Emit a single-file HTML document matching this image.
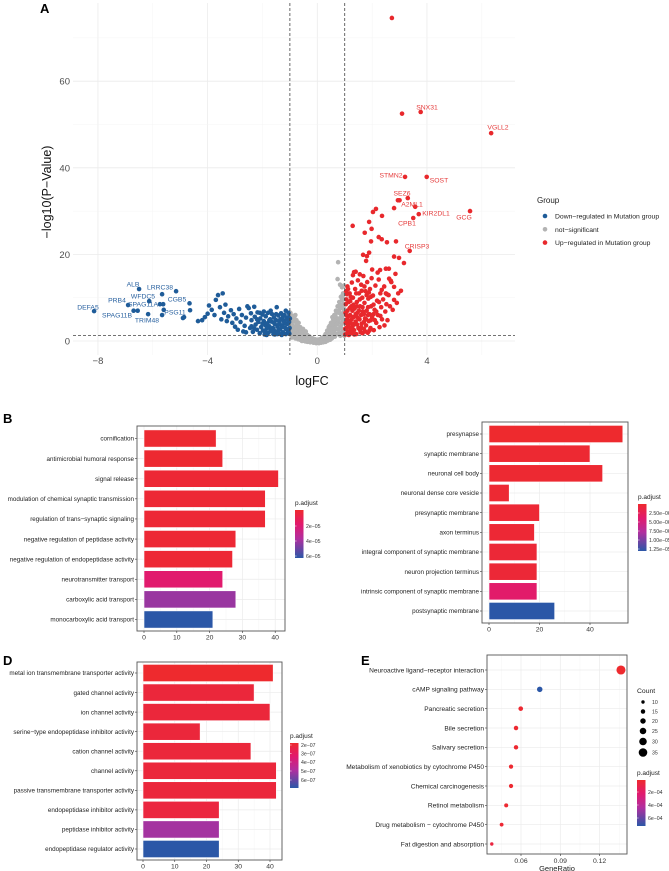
<!DOCTYPE html>
<html><head><meta charset="utf-8"><style>
html,body{margin:0;padding:0;background:#fff;}
svg{display:block;font-family:"Liberation Sans",sans-serif;}
</style></head><body>
<svg id="fig" width="669" height="871" viewBox="0 0 669 871" xmlns="http://www.w3.org/2000/svg">
<defs>
<linearGradient id="gradP" x1="0" y1="0" x2="0" y2="1">
<stop offset="0" stop-color="#ee2a2e"/><stop offset="0.3" stop-color="#e11a6e"/><stop offset="0.6" stop-color="#b12f9f"/><stop offset="1" stop-color="#2b57a7"/>
</linearGradient>
</defs>
</svg>
<script>
// ---------- Volcano data ----------
const downPoints = [[-8.14,6.9],[-6.5,12],[-5.15,11.5],[-6.13,9.2],[-5.66,10.8],[-6.9,8.3],[-6.7,7.0],[-6.55,7.0],[-6.17,6.2],[-5.6,7.2],[-5.66,6.0],[-4.66,8.7],[-4.64,7.1],[-4.86,5.5],[-5.74,8.5],[-5.62,8.5],[-4.9,5.3],
[-4.35,4.6],[-4.2,4.8],[-4.1,5.5],[-4.0,6.3],[-3.95,8.2],[-3.85,7.2],[-3.75,6],[-3.7,9.5],[-3.62,10.6],[-3.55,7.8],[-3.5,5],[-3.45,11],[-3.4,6.5],[-3.35,8.4],[-3.3,4.6],[-3.25,5.7],[-3.15,7.1],[-3.1,4.2],[-3.05,6.2],[-3.0,3.3],[-2.95,5.2],[-2.9,2.6],[-2.85,7.4],[-2.8,4.4],[-2.75,6],[-2.7,2.2],[-2.65,3.5],[-2.6,5.4],[-2.55,8],[-2.5,7.6],[-2.45,3],[-2.42,6.4],[-2.4,4.8],[-2.35,2.1],[-2.3,7.9],[-2.28,5.6],[-2.25,3.8],[-2.2,2.6],[-2.18,6.6],[-2.15,4.4],[-2.1,1.8],[-2.08,5.2],[-2.05,3.2],[-2.0,6.1],[-1.98,2.4],[-1.95,4.6],[-1.92,1.5],[-1.9,3.7],[-1.88,5.7],[-1.85,2.9],[-1.82,4.1],[-1.8,6.5],[-1.78,1.9],[-1.75,3.4],[-1.72,5.0],[-1.7,2.5],[-1.68,4.5],[-1.65,6.2],[-1.62,3.0],[-1.6,1.6],[-1.58,5.4],[-1.55,3.9],[-1.52,2.2],[-1.5,4.8],[-1.48,7.8],[-1.45,3.3],[-1.42,5.9],[-1.4,1.8],[-1.38,4.3],[-1.35,2.7],[-1.32,6.4],[-1.3,3.6],[-1.28,5.1],[-1.25,2.0],[-1.22,4.6],[-1.2,6.0],[-1.18,3.1],[-1.15,1.6],[-1.12,5.4],[-1.1,3.9],[-1.08,2.4],[-1.05,6.5],[-1.03,4.4],[-1.01,3.0],[-1.02,1.7],[-1.6,2.8],[-1.9,2.1],[-2.0,4.0],[-1.4,2.6],[-1.15,2.8],[-1.75,4.8],[-1.25,5.8],[-2.3,2.9],[-2.6,2.0],[-1.55,1.5],[-1.1,4.9],
[-1.95,6.8],[-1.85,1.4],[-1.7,7],[-1.5,6.2],[-1.45,1.6],[-1.35,5],[-1.3,1.4],[-1.2,4.2],[-1.15,7],[-1.05,2.3],[-1.05,5.5],[-1.6,4.3],[-1.8,3.2],[-2.1,6.5],[-2.2,5],[-2.4,3.4],[-1.4,3.8],[-1.25,3.3],[-1.65,2.3],[-1.0,5.2]];
const nsPoints = [[-0.98,6.5],[-0.95,2],[-0.92,5],[-0.9,3.5],[-0.88,1.2],[-0.85,4.5],[-0.82,2.8],[-0.8,6],[-0.78,1.8],[-0.75,3.8],[-0.72,0.9],[-0.7,2.5],[-0.68,4.2],[-0.65,1.5],[-0.62,3.2],[-0.6,0.7],[-0.58,2.2],[-0.55,1.2],[-0.52,2.8],[-0.5,0.5],[-0.48,1.8],[-0.45,0.9],[-0.42,2.2],[-0.4,0.4],[-0.37,1.4],[-0.34,0.7],[-0.3,1.1],[-0.27,0.3],[-0.24,0.8],[-0.2,0.2],[-0.16,0.6],[-0.12,0.2],[-0.08,0.4],[-0.04,0.1],[0,0.3],[0.04,0.1],[0.08,0.4],[0.12,0.2],[0.16,0.7],[0.2,0.3],[0.24,1.0],[0.27,0.4],[0.3,1.6],[0.33,0.8],[0.36,2.4],[0.4,1.2],[0.42,3.2],[0.45,0.6],[0.48,2.0],[0.5,4.2],[0.52,1.4],[0.55,3.0],[0.58,5.0],[0.6,2.2],[0.62,6],[0.64,1.0],[0.66,3.8],[0.68,7],[0.7,2.8],[0.72,5.2],[0.74,8],[0.76,1.6],[0.78,4.4],[0.8,9],[0.82,6.4],[0.84,3.2],[0.86,10.2],[0.88,7.6],[0.9,5.2],[0.92,2.2],[0.94,11],[0.96,8.6],[0.98,4.2],[0.76,18.2],[0.74,14.3],[0.83,13],[0.9,12.4],[0.97,12.8],[0.6,3.6],[0.7,4.4],[0.85,1.8],[0.95,6.6],[0.65,2.6],[-0.85,1.0],[-0.95,4.0],[-0.6,1.4],[0.3,0.2],[-0.3,0.2],[0.5,0.8],[-0.5,1.3],[0.9,9.5],[0.55,5.5],[0.45,3.5],[0.78,7],[0.88,3.8],
[-0.97,1.5],[-0.97,3],[-0.97,4.5],[-0.93,0.8],[-0.9,2.2],[-0.9,5.8],[-0.86,3.3],[-0.83,1.8],[-0.83,5.2],[-0.8,0.6],[-0.78,3],[-0.76,4.8],[-0.74,1.2],[-0.72,3.6],[-0.7,0.4],[-0.68,1.9],[-0.66,3],[-0.63,0.3],[-0.62,2.2],[-0.58,1.3],[-0.56,0],[-0.54,1.9],[-0.5,0.1],[-0.46,1.3],[-0.44,-0.1],[-0.4,0.9],[-0.36,-0.2],[-0.32,0.5],[-0.26,-0.3],[-0.2,-0.1],[-0.14,-0.4],[-0.1,-0.1],[-0.04,-0.5],[0.02,-0.2],[0.06,-0.5],[0.1,-0.1],[0.14,-0.4],[0.18,0],[0.22,-0.3],[0.26,0.3],[0.3,-0.2],[0.34,0.6],[0.38,0.1],[0.4,2],[0.44,1.5],[0.47,0.3],[0.5,2.8],[0.53,0.6],[0.56,2],[0.58,3.8],[0.6,1],[0.62,4.6],[0.64,3],[0.66,5.8],[0.68,1.6],[0.7,6.5],[0.72,3.8],[0.74,6.8],[0.76,2.6],[0.78,8],[0.8,5.2],[0.82,7.6],[0.84,1.2],[0.86,8.4],[0.88,5.8],[0.9,2.8],[0.92,7.8],[0.94,4.6],[0.96,9.8],[0.97,2],[0.98,6],[0.98,7.4],[0.92,10.5],[0.99,1.2]];
const upPoints = [[6.34,48],[3.77,52.9],[3.09,52.5],[2.72,74.6],[3.2,37.9],[3.99,37.9],[3.3,33],[2.94,32.5],[3.0,32.5],[3.57,31],[3.7,29.3],[5.57,30],[3.5,28.4],[3.37,20.8],[2.14,30.5],[2.03,29.8],[2.36,28.9],[2.8,30.7],[1.29,26.6],[1.89,27.5],[1.73,25],[1.98,25.9],[1.96,23],[2.24,24],[2.35,23.5],[2.54,22.8],[2.87,23],[1.67,19.9],[1.81,19.6],[1.89,20.4],[1.78,18.5],[2.8,19.5],[2.98,19.2],[3.16,18],[1.34,15.9],[2.29,16.4],[2.5,16.7],[2.61,16.7],[3.05,11.6],[2.54,10.8],[2.68,13.9],
[1.02,1.5],[1.05,3],[1.08,5],[1.1,7],[1.12,2.2],[1.14,9],[1.16,4],[1.18,11],[1.2,6],[1.22,1.8],[1.24,8],[1.26,13.5],[1.28,3.3],[1.3,10],[1.32,5.5],[1.34,2.5],[1.36,7.5],[1.38,12],[1.4,4.5],[1.42,1.6],[1.44,9],[1.46,6.5],[1.48,14],[1.5,3],[1.52,11],[1.54,5],[1.56,8],[1.58,2],[1.6,13],[1.62,4],[1.64,10],[1.66,6.8],[1.68,15],[1.7,2.8],[1.72,8.8],[1.74,5.2],[1.76,11.5],[1.78,3.6],[1.8,7],[1.82,13.6],[1.84,1.9],[1.86,9.8],[1.88,4.6],[1.9,6.2],[1.92,12],[1.94,3],[1.96,8],[1.98,14.5],[2.0,5.5],[2.03,10.5],[2.06,2.5],[2.09,7.2],[2.12,12.8],[2.15,4.2],[2.18,9.3],[2.21,6],[2.24,14.2],[2.27,3.2],[2.3,11],[2.33,7.8],[2.36,5],[2.4,9.6],[2.44,12.6],[2.48,6.8],[2.52,8.5],[2.56,4.8],[2.6,10.6],[2.65,8],[2.7,13.6],[2.75,7.2],[2.8,9.5],[2.85,15.5],[2.9,8.8],[1.06,6],[1.12,4.8],[1.2,9.2],[1.28,7],[1.36,4],[1.44,5.6],[1.52,7],[1.6,6],[1.7,4.4],[1.8,10.6],[1.9,2.4],[1.15,1.4],[1.25,2.6],[1.35,1.5],[1.45,3.8],[1.55,2.6],[1.65,1.8],[1.75,2.2],[1.85,6],[1.95,10.2],[2.05,8.4],[2.15,6.8],[2.25,9],[2.35,11.8],[2.45,3.6],[1.04,8.5],[1.08,10.8],[1.1,12.6],[1.3,15.2],[1.4,16],[1.55,15.4],[2.0,16.5],[2.2,15.8],[1.22,4.2],[1.32,8.4],[1.42,11],[1.62,11.6],[1.72,12.6],[2.1,4.8],[2.3,5.8],[2.5,11],[2.62,14.4],[2.8,12.5],[2.95,11],
[1.02,2.8],[1.04,4.2],[1.03,6.5],[1.06,9.6],[1.1,1.8],[1.12,3.6],[1.15,5.8],[1.18,7.6],[1.2,3],[1.25,5],[1.3,1.7],[1.33,3.8],[1.4,6.2],[1.45,8],[1.5,5.2],[1.55,9.6],[1.6,3.2],[1.65,7.8],[1.7,6.2],[1.78,5],[1.85,7.8],[1.88,11.2],[1.95,4.8],[2.05,6.2],[1.12,12],[1.22,10.2],[1.05,11.5]];
const downLabels = [["DEFA5",88,307],["ALB",133,284],["LRRC38",160,287],["WFDC5",143,296],["CGB5",177,299],["PRB4",117,300],["SPAG11A",143,304],["SPAG11B",117,315],["TRIM48",147,320],["PSG11",175,312]];
const upLabels = [["SNX31",427,107],["VGLL2",498,127],["STMN2",391,175],["SOST",439,180],["SEZ6",402,193],["A2ML1",412,204],["KIR2DL1",436,213],["GCG",464,217],["CPB1",407,223],["CRISP3",417,246]];
const volXTicks = [-8,-4,0,4];
const volYTicks = [0,20,40,60];

// ---------- Panel B ----------
const bCats = ["cornification","antimicrobial humoral response","signal release","modulation of chemical synaptic transmission","regulation of trans−synaptic signaling","negative regulation of peptidase activity","negative regulation of endopeptidase activity","neurotransmitter transport","carboxylic acid transport","monocarboxylic acid transport"];
const bVals = [22,24,41,37,37,28,27,24,28,21];
const bPadj = [2e-6,2e-6,3e-6,3e-6,3e-6,3e-6,3e-6,1.9e-5,4.2e-5,6.2e-5];
const bTicks = [0,10,20,30,40];
const bLegend = ["2e−05","4e−05","6e−05"];
// ---------- Panel C ----------
const cCats = ["presynapse","synaptic membrane","neuronal cell body","neuronal dense core vesicle","presynaptic membrane","axon terminus","integral component of synaptic membrane","neuron projection terminus","intrinsic component of synaptic membrane","postsynaptic membrane"];
const cVals = [53,40,45,8,20,18,19,19,19,26];
const cPadj = [1.2e-6,1.4e-6,1.4e-6,1.5e-6,1.6e-6,1.6e-6,1.7e-6,1.7e-6,4.5e-6,1.3e-5];
const cTicks = [0,20,40];
const cLegend = ["2.50e−06","5.00e−06","7.50e−06","1.00e−05","1.25e−05"];
// ---------- Panel D ----------
const dCats = ["metal ion transmembrane transporter activity","gated channel activity","ion channel activity","serine−type endopeptidase inhibitor activity","cation channel activity","channel activity","passive transmembrane transporter activity","endopeptidase inhibitor activity","peptidase inhibitor activity","endopeptidase regulator activity"];
const dVals = [41,35,40,18,34,42,42,24,24,24];
const dPadj = [1.8e-7,2.1e-7,2.1e-7,2.1e-7,2.1e-7,2.1e-7,2.1e-7,2.2e-7,5.0e-7,6.8e-7];
const dTicks = [0,10,20,30,40];
const dLegend = ["2e−07","3e−07","4e−07","5e−07","6e−07"];
// ---------- Panel E ----------
const eCats = ["Neuroactive ligand−receptor interaction","cAMP signaling pathway","Pancreatic secretion","Bile secretion","Salivary secretion","Metabolism of xenobiotics by cytochrome P450","Chemical carcinogenesis","Retinol metabolism","Drug metabolism − cytochrome P450","Fat digestion and absorption"];
const eRatio = [0.1363,0.0743,0.0598,0.0562,0.0562,0.0524,0.0524,0.0487,0.0452,0.0377];
const eCount = [37,20,16,15,15,14,14,13,12,10];
const ePadj = [2e-5,7.2e-4,3e-5,3e-5,3e-5,3e-5,3e-5,3e-5,4e-5,8e-5];
const eTicks = [0.06,0.09,0.12];
const eCountLegend = [10,15,20,25,30,35];
const eLegend = ["2e−04","4e−04","6e−04"];

const NS="http://www.w3.org/2000/svg";
const svg=document.getElementById('fig');
function mk(tag,attrs,parent){const e=document.createElementNS(NS,tag);for(const k in attrs)e.setAttribute(k,attrs[k]);(parent||svg).appendChild(e);return e;}
function txt(s,attrs,parent){const e=mk('text',attrs,parent);e.textContent=s;return e;}
function hex(c){return [parseInt(c.slice(1,3),16),parseInt(c.slice(3,5),16),parseInt(c.slice(5,7),16)];}
const stops=[[0,'#ee2a2e'],[0.3,'#e11a6e'],[0.6,'#b12f9f'],[1,'#2b57a7']];
function colorAt(t){t=Math.max(0,Math.min(1,t));for(let i=0;i<stops.length-1;i++){const[a,ca]=stops[i],[b,cb]=stops[i+1];if(t<=b){const u=(t-a)/(b-a),x=hex(ca),y=hex(cb);return 'rgb('+x.map((v,j)=>Math.round(v+(y[j]-v)*u)).join(',')+')';}}return stops[3][1];}

// ===== Volcano =====
const vx=v=>317.3+27.42*v, vy=v=>341-4.33*v;
const gV=mk('g',{});


for(let v=-8;v<=6;v+=2){const l=mk('line',{x1:vx(v),x2:vx(v),y1:3,y2:355,stroke:v%4===0?'#ebebeb':'#f4f4f4','stroke-width':v%4===0?0.8:0.5},gV);

}
for(let v=0;v<=70;v+=10){const l=mk('line',{x1:73,x2:515,y1:vy(v),y2:vy(v),stroke:v%20===0?'#ebebeb':'#f4f4f4','stroke-width':v%20===0?0.8:0.5},gV);

}
function drawPts(arr,col,name){for(const p of arr){const c=mk('circle',{cx:vx(p[0]),cy:vy(p[1]),r:2.3,fill:col},gV);

}}
drawPts(nsPoints,'#b3b3b3','ns-point');
drawPts(downPoints,'#1f5c99','down-point');
drawPts(upPoints,'#e8282c','up-point');
[-1,1].forEach(v=>{const l=mk('line',{x1:vx(v),x2:vx(v),y1:3,y2:355,stroke:'#444','stroke-width':0.8,'stroke-dasharray':'3,2'},gV);

});
{const l=mk('line',{x1:73,x2:515,y1:vy(1.3),y2:vy(1.3),stroke:'#444','stroke-width':0.8,'stroke-dasharray':'3,2'},gV);

}
for(const L of downLabels){const t=txt(L[0],{x:L[1],y:L[2]+2.5,'font-size':6.8,fill:'#2a62a0','text-anchor':'middle'},gV);

}
for(const L of upLabels){const t=txt(L[0],{x:L[1],y:L[2]+2.5,'font-size':6.8,fill:'#e53a3a','text-anchor':'middle'},gV);

}
for(const v of volXTicks){const t=txt(v<0?'−'+Math.abs(v):String(v),{x:vx(v),y:364,'font-size':9.5,fill:'#4d4d4d','text-anchor':'middle'},gV);

}
for(const v of volYTicks){const t=txt(String(v),{x:70,y:vy(v)+3.5,'font-size':9.5,fill:'#4d4d4d','text-anchor':'end'},gV);

}
{const t=txt('logFC',{x:312,y:385,'font-size':12.5,fill:'#111','text-anchor':'middle'},gV);

}
{const t=txt('−log10(P−Value)',{x:0,y:0,'font-size':12.5,fill:'#111','text-anchor':'middle',transform:'translate(51,192) rotate(-90)'},gV);

}
{const t=txt('Group',{x:537,y:203,'font-size':8,fill:'#222'},gV);

}
[['Down−regulated in Mutation group','#1f5c99'],['not−significant','#b3b3b3'],['Up−regulated in Mutation group','#e8282c']].forEach((e,i)=>{
const c=mk('circle',{cx:545,cy:216+i*13.3,r:2.3,fill:e[1]},gV);


const t=txt(e[0],{x:555,y:218.5+i*13.3,'font-size':6.8,fill:'#222'},gV);

});

// panel letters
[['A',40,13],['B',3,423],['C',361,423],['D',3,665],['E',361,665]].forEach(L=>{const t=txt(L[0],{x:L[1],y:L[2],'font-size':13,'font-weight':'bold',fill:'#000'});

});

// ===== Bar panels =====
function barPanel(o){
const g=mk('g',{});


const sx=v=>o.x0+o.k*v;
const n=o.cats.length, step=(o.cLast-o.cFirst)/(n-1);
for(const v of o.ticks){const l=mk('line',{x1:sx(v),x2:sx(v),y1:o.top,y2:o.bot,stroke:'#ebebeb','stroke-width':0.7},g);

}
for(let i=0;i<o.ticks.length-1;i++){const m=(o.ticks[i]+o.ticks[i+1])/2;const l=mk('line',{x1:sx(m),x2:sx(m),y1:o.top,y2:o.bot,stroke:'#f5f5f5','stroke-width':0.5},g);

}
o.cats.forEach((c,i)=>{const cy=o.cFirst+i*step;
const gl=mk('line',{x1:o.left,x2:o.right,y1:cy,y2:cy,stroke:'#ebebeb','stroke-width':0.7},g);


const r=mk('rect',{x:sx(0),y:cy-8.6,width:sx(o.vals[i])-sx(0),height:17.2,fill:colorAt((o.padj[i]-o.dom[0])/(o.dom[1]-o.dom[0])),stroke:'#fff','stroke-width':0.6},g);


const tk=mk('line',{x1:o.left-2,x2:o.left,y1:cy,y2:cy,stroke:'#333','stroke-width':0.6},g);


const t=txt(c,{x:o.left-3,y:cy+2.2,'font-size':6.3,fill:'#222','text-anchor':'end'},g);

});
const b=mk('rect',{x:o.left,y:o.top,width:o.right-o.left,height:o.bot-o.top,fill:'none',stroke:'#555','stroke-width':0.9},g);


for(const v of o.ticks){const tk=mk('line',{x1:sx(v),x2:sx(v),y1:o.bot,y2:o.bot+2,stroke:'#333','stroke-width':0.6},g);


const t=txt(String(v),{x:sx(v),y:o.bot+8.5,'font-size':6.8,fill:'#333','text-anchor':'middle'},g);

}
legendBar(g,o.lx,o.ly,o.lh,o.legend,o.lpos);
return g;}
function legendBar(g,lx,ly,lh,labels,pos){
const t=txt('p.adjust',{x:lx,y:ly-5,'font-size':6.5,fill:'#222'},g);


const r=mk('rect',{x:lx,y:ly,width:8.5,height:lh,fill:'url(#gradP)'},g);


labels.forEach((s,i)=>{const y=pos[i];
const l=mk('line',{x1:lx,x2:lx+1.6,y1:y,y2:y,stroke:'#fff','stroke-width':0.5},g);


const tt=txt(s,{x:lx+11,y:y+1.8,'font-size':5.2,fill:'#333'},g);

});}

barPanel({name:'panel-b-bar-chart',cats:bCats,vals:bVals,padj:bPadj,dom:[1e-6,6.2e-5],ticks:bTicks,x0:144,k:3.28,left:137,right:285,top:426,bot:631,cFirst:438.5,cLast:619.5,legend:bLegend,lx:295,ly:510,lh:48,lpos:[526,541,556]});
barPanel({name:'panel-c-bar-chart',cats:cCats,vals:cVals,padj:cPadj,dom:[1.2e-6,1.3e-5],ticks:cTicks,x0:489,k:2.525,left:482,right:628,top:422,bot:623,cFirst:434,cLast:611,legend:cLegend,lx:638,ly:504,lh:47,lpos:[513,522,531,540,549]});
barPanel({name:'panel-d-bar-chart',cats:dCats,vals:dVals,padj:dPadj,dom:[1.8e-7,6.8e-7],ticks:dTicks,x0:143,k:3.175,left:137,right:282,top:662,bot:860,cFirst:673,cLast:849,legend:dLegend,lx:290,ly:743,lh:45,lpos:[745,753.5,762,771,780]});

// ===== Dot plot E =====
{
const g=mk('g',{});


const left=487,right=627,top=655,bot=854;
const sx=v=>521+(v-0.06)*(39.3/0.03);
const rad=c=>0.66+0.104*c;
const cF=670,cL=844,step=(cL-cF)/9;
for(let v=0.045;v<0.14;v+=0.03){const l=mk('line',{x1:sx(v),x2:sx(v),y1:top,y2:bot,stroke:'#f5f5f5','stroke-width':0.5},g);

}
for(const v of eTicks){const l=mk('line',{x1:sx(v),x2:sx(v),y1:top,y2:bot,stroke:'#ebebeb','stroke-width':0.7},g);

}
eCats.forEach((c,i)=>{const cy=cF+i*step;
const gl=mk('line',{x1:left,x2:right,y1:cy,y2:cy,stroke:'#ebebeb','stroke-width':0.7},g);


const d=mk('circle',{cx:sx(eRatio[i]),cy:cy,r:rad(eCount[i]),fill:colorAt((ePadj[i]-2e-5)/(7.2e-4-2e-5))},g);


const tk=mk('line',{x1:left-2,x2:left,y1:cy,y2:cy,stroke:'#333','stroke-width':0.6},g);


const t=txt(c,{x:left-3,y:cy+2.3,'font-size':6.6,fill:'#222','text-anchor':'end'},g);

});
const b=mk('rect',{x:left,y:top,width:right-left,height:bot-top,fill:'none',stroke:'#555','stroke-width':0.9},g);


for(const v of eTicks){const tk=mk('line',{x1:sx(v),x2:sx(v),y1:bot,y2:bot+2,stroke:'#333','stroke-width':0.6},g);


const t=txt(v.toFixed(2),{x:sx(v),y:bot+9,'font-size':6.8,fill:'#333','text-anchor':'middle'},g);

}
{const t=txt('GeneRatio',{x:557,y:871,'font-size':7.5,fill:'#222','text-anchor':'middle'},g);

}
{const t=txt('Count',{x:637,y:693,'font-size':6.8,fill:'#222'},g);

}
const cys=[702,711.5,721,731,741.5,752.5];
eCountLegend.forEach((c,i)=>{const d=mk('circle',{cx:643,cy:cys[i],r:rad(c),fill:'#000'},g);


const t=txt(String(c),{x:652,y:cys[i]+2,'font-size':5.2,fill:'#333'},g);

});
legendBar(g,637,780,46,eLegend,[792,805,818]);
}
</script>
</body></html>
